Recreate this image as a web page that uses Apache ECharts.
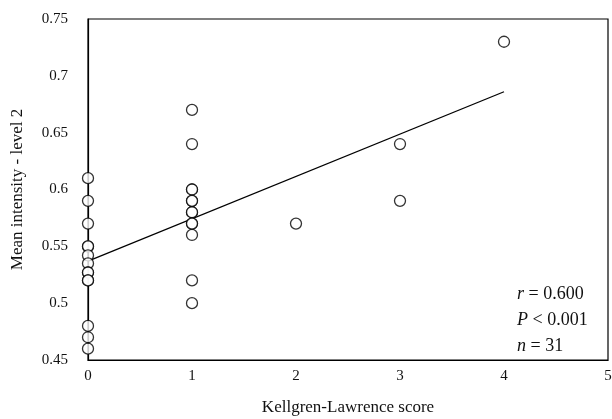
<!DOCTYPE html>
<html>
<head>
<meta charset="utf-8">
<script src="https://cdn.jsdelivr.net/npm/echarts@6/dist/echarts.min.js"></script>
<style>
  html, body { margin: 0; padding: 0; background: #fff; }
  #chart { width: 612px; height: 419px; }
</style>
</head>
<body>
<div id="chart"></div>
<script>
// Kellgren-Lawrence score vs mean intensity (level 2)
const klScore = [0, 0, 0, 0, 0, 0, 0, 0, 0, 0, 0, 0, 0, 0,
                 1, 1, 1, 1, 1, 1, 1, 1, 1, 1, 1, 1, 1,
                 2, 3, 3, 4];
const meanIntensity = [0.61, 0.59, 0.57, 0.55, 0.55, 0.542, 0.535, 0.527, 0.527, 0.52, 0.52, 0.48, 0.47, 0.46,
                       0.67, 0.64, 0.60, 0.60, 0.59, 0.58, 0.58, 0.57, 0.57, 0.56, 0.52, 0.50, 0.59,
                       0.57, 0.64, 0.59, 0.73];
// regression line endpoints
const fitX = [0, 4];
const fitY = [0.537, 0.686];
const xTicks = [0, 1, 2, 3, 4, 5];
const yTicks = [0.45, 0.5, 0.55, 0.6, 0.65, 0.7, 0.75];

const font = 'Liberation Serif';
const chart = echarts.init(document.getElementById('chart'));

const points = klScore.map((x, i) => [x, meanIntensity[i]]);
const fitLine = fitX.map((x, i) => [x, fitY[i]]);

chart.setOption({
    animation: false,
    grid: {
        left: 88, right: 4, top: 19, bottom: 59,
        outerBoundsMode: 'none',
        containLabel: false,
        show: true, borderColor: '#000', borderWidth: 1.2
    },
    xAxis: {
        type: 'value',
        min: 0, max: 5, interval: 1,
        name: 'Kellgren-Lawrence score',
        nameLocation: 'middle',
        nameGap: 39,
        nameTextStyle: { fontFamily: font, fontSize: 17, color: '#111' },
        axisLine: { show: true, lineStyle: { color: '#000', width: 1.2 } },
        axisTick: { show: false },
        splitLine: { show: false },
        axisLabel: {
            fontFamily: font, fontSize: 15, color: '#111', margin: 9,
            formatter: v => xTicks.includes(v) ? String(v) : ''
        }
    },
    yAxis: {
        type: 'value',
        min: 0.45, max: 0.75, interval: 0.05,
        name: 'Mean intensity - level 2',
        nameLocation: 'middle',
        nameGap: 62,
        nameTextStyle: { fontFamily: font, fontSize: 17, color: '#111' },
        axisLine: { show: true, lineStyle: { color: '#000', width: 1.2 } },
        axisTick: { show: false },
        splitLine: { show: false },
        axisLabel: {
            fontFamily: font, fontSize: 15, color: '#111', margin: 20,
            formatter: v => {
                const t = yTicks.find(y => Math.abs(y - v) < 1e-6);
                return t === undefined ? '' : String(t);
            }
        }
    },
    series: [
        {
            type: 'line',
            data: fitLine,
            symbol: 'none',
            lineStyle: { color: '#000', width: 1.3 },
            z: 1
        },
        {
            type: 'scatter',
            data: points,
            symbol: 'circle',
            symbolSize: 11,
            itemStyle: { color: '#fff', borderColor: '#000', borderWidth: 1.3 },
            z: 2
        }
    ],
    graphic: [
        {
            type: 'text', left: 517, top: 281,
            style: {
                text: '{i|r} = 0.600\n{i|P} < 0.001\n{i|n} = 31',
                font: '18px ' + font,
                fill: '#111',
                lineHeight: 26,
                rich: {
                    i: { fontStyle: 'italic', fontFamily: font, fontSize: 18, fill: '#111', lineHeight: 26 }
                }
            }
        }
    ]
});
</script>
</body>
</html>
